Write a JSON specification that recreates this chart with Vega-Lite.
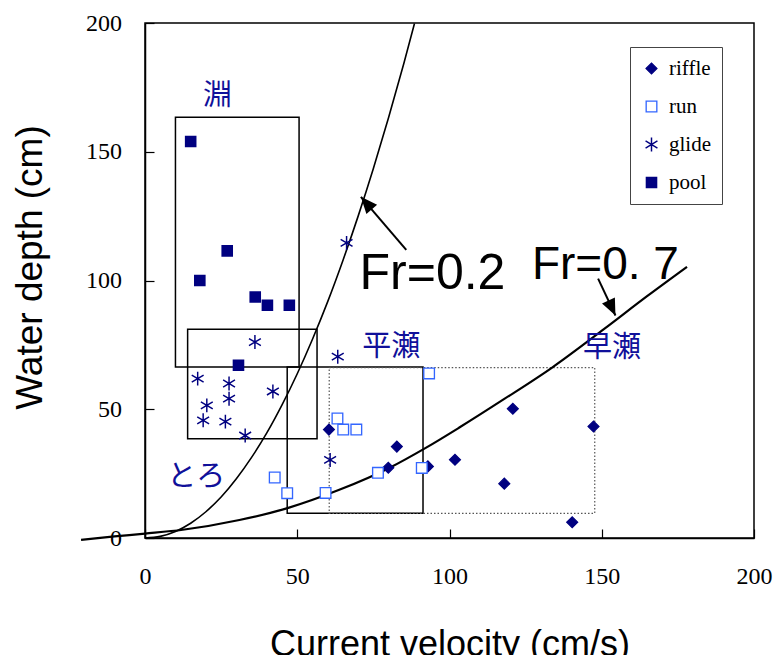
{
  "$schema": "https://vega.github.io/schema/vega-lite/v6.json",
  "width": 609,
  "height": 515,
  "autosize": {"type": "none"},
  "padding": {"left": 145, "top": 23, "right": 22, "bottom": 117},
  "background": "white",
  "datasets": {
    "points": [
      {"type": "riffle", "v": 60.4, "h": 42.1},
      {"type": "riffle", "v": 82.7, "h": 35.5},
      {"type": "riffle", "v": 79.9, "h": 27.3},
      {"type": "riffle", "v": 92.9, "h": 27.8},
      {"type": "riffle", "v": 101.8, "h": 30.4},
      {"type": "riffle", "v": 118.0, "h": 21.1},
      {"type": "riffle", "v": 120.8, "h": 50.2},
      {"type": "riffle", "v": 140.3, "h": 6.1},
      {"type": "riffle", "v": 147.3, "h": 43.3},
      {"type": "run", "v": 63.2, "h": 46.4},
      {"type": "run", "v": 65.1, "h": 42.1},
      {"type": "run", "v": 69.4, "h": 42.1},
      {"type": "run", "v": 42.6, "h": 23.5},
      {"type": "run", "v": 46.7, "h": 17.4},
      {"type": "run", "v": 59.3, "h": 17.5},
      {"type": "run", "v": 76.5, "h": 25.3},
      {"type": "run", "v": 90.9, "h": 27.2},
      {"type": "run", "v": 93.3, "h": 63.9},
      {"type": "glide", "v": 36.1, "h": 76.1},
      {"type": "glide", "v": 17.3, "h": 61.9},
      {"type": "glide", "v": 27.6, "h": 60.0},
      {"type": "glide", "v": 27.6, "h": 54.1},
      {"type": "glide", "v": 42.0, "h": 56.9},
      {"type": "glide", "v": 20.3, "h": 51.5},
      {"type": "glide", "v": 19.1, "h": 45.7},
      {"type": "glide", "v": 26.4, "h": 45.2},
      {"type": "glide", "v": 32.9, "h": 39.8},
      {"type": "glide", "v": 63.3, "h": 70.4},
      {"type": "glide", "v": 60.8, "h": 30.3},
      {"type": "glide", "v": 66.2, "h": 114.6},
      {"type": "pool", "v": 15.0, "h": 154.0},
      {"type": "pool", "v": 18.0, "h": 100.0},
      {"type": "pool", "v": 27.0, "h": 111.5},
      {"type": "pool", "v": 36.2, "h": 93.6},
      {"type": "pool", "v": 40.2, "h": 90.4},
      {"type": "pool", "v": 47.4, "h": 90.4},
      {"type": "pool", "v": 30.7, "h": 67.1}
    ],
    "boxes": [
      {"box": "pool", "v": 10.0, "v2": 50.6, "h": 66.4, "h2": 163.4},
      {"box": "glide", "v": 14.0, "v2": 56.5, "h": 38.5, "h2": 81.1},
      {"box": "run", "v": 46.7, "v2": 91.3, "h": 9.6, "h2": 66.4}
    ],
    "riffleBox": [
      {"box": "riffle", "v": 60.5, "v2": 147.7, "h": 9.6, "h2": 66.2}
    ],
    "curves": [
      {"fr": "0.2", "v": 0, "h": 0},
      {"fr": "0.2", "v": 5, "h": 0.64},
      {"fr": "0.2", "v": 10, "h": 2.55},
      {"fr": "0.2", "v": 15, "h": 5.74},
      {"fr": "0.2", "v": 20, "h": 10.2},
      {"fr": "0.2", "v": 25, "h": 15.9},
      {"fr": "0.2", "v": 30, "h": 23.0},
      {"fr": "0.2", "v": 35, "h": 31.3},
      {"fr": "0.2", "v": 40, "h": 40.8},
      {"fr": "0.2", "v": 45, "h": 51.7},
      {"fr": "0.2", "v": 50, "h": 63.8},
      {"fr": "0.2", "v": 55, "h": 77.2},
      {"fr": "0.2", "v": 60, "h": 91.8},
      {"fr": "0.2", "v": 65, "h": 107.8},
      {"fr": "0.2", "v": 70, "h": 125.0},
      {"fr": "0.2", "v": 75, "h": 143.5},
      {"fr": "0.2", "v": 80, "h": 163.3},
      {"fr": "0.2", "v": 85, "h": 184.3},
      {"fr": "0.2", "v": 88.5, "h": 199.8},
      {"fr": "0.7", "v": -21, "h": -0.7},
      {"fr": "0.7", "v": -10, "h": 0.6},
      {"fr": "0.7", "v": 0, "h": 1.7},
      {"fr": "0.7", "v": 12.4, "h": 3.2},
      {"fr": "0.7", "v": 31, "h": 7.0},
      {"fr": "0.7", "v": 46.8, "h": 11.6},
      {"fr": "0.7", "v": 63.8, "h": 18.7},
      {"fr": "0.7", "v": 80.2, "h": 27.2},
      {"fr": "0.7", "v": 92.2, "h": 35.0},
      {"fr": "0.7", "v": 103.1, "h": 42.8},
      {"fr": "0.7", "v": 118, "h": 54.0},
      {"fr": "0.7", "v": 133.7, "h": 66.2},
      {"fr": "0.7", "v": 150.7, "h": 81.1},
      {"fr": "0.7", "v": 165, "h": 94.0},
      {"fr": "0.7", "v": 178, "h": 105.3}
    ],
    "jpLabels": [
      {"text": "淵", "v": 23.8, "h": 171.6},
      {"text": "平瀬", "v": 80.9, "h": 74.2},
      {"text": "早瀬", "v": 153.4, "h": 73.6},
      {"text": "とろ", "v": 16.8, "h": 23.6}
    ],
    "frLabels": [
      {"text": "Fr=0.2", "v": 94.4, "h": 96.8}
    ],
    "frLabels2": [
      {"text": "Fr=0. 7", "v": 151.2, "h": 100.7}
    ],
    "arrows": [
      {"name": "a02", "v": 85.8, "h": 111.9, "v2": 70.9, "h2": 132.5},
      {"name": "a07", "v": 148.8, "h": 100.7, "v2": 154.5, "h2": 86.4}
    ]
  },
  "layer": [
    {
      "data": {"name": "boxes"},
      "mark": {"type": "rect", "fillOpacity": 0, "stroke": "black", "strokeWidth": 1.5},
      "encoding": {
        "x": {"field": "v", "type": "quantitative", "scale": {"domain": [0, 200], "nice": false}, "title": "Current velocity (cm/s)", "axis": {"values": [0, 50, 100, 150, 200]}},
        "x2": {"field": "v2"},
        "y": {"field": "h", "type": "quantitative", "scale": {"domain": [0, 200], "nice": false}, "title": "Water depth (cm)", "axis": {"values": [0, 50, 100, 150, 200]}},
        "y2": {"field": "h2"},
        "strokeDash": {"field": "box", "type": "nominal", "scale": {"domain": ["pool", "glide", "run"], "range": [[1, 0], [8, 4, 2, 4], [7, 4]]}, "legend": null}
      }
    },
    {
      "data": {"name": "riffleBox"},
      "mark": {"type": "rect", "fillOpacity": 0, "stroke": "#555555", "strokeWidth": 1.2, "strokeDash": [1.5, 2]},
      "encoding": {
        "x": {"field": "v", "type": "quantitative", "title": "Current velocity (cm/s)"},
        "x2": {"field": "v2"},
        "y": {"field": "h", "type": "quantitative", "title": "Water depth (cm)"},
        "y2": {"field": "h2"}
      }
    },
    {
      "data": {"name": "curves"},
      "transform": [{"filter": "datum.fr === '0.2'"}],
      "mark": {"type": "line", "color": "black", "strokeWidth": 1.6, "interpolate": "monotone", "clip": false},
      "encoding": {
        "x": {"field": "v", "type": "quantitative", "title": "Current velocity (cm/s)"},
        "y": {"field": "h", "type": "quantitative", "title": "Water depth (cm)"}
      }
    },
    {
      "data": {"name": "curves"},
      "transform": [{"filter": "datum.fr === '0.7'"}],
      "mark": {"type": "line", "color": "black", "strokeWidth": 2.2, "interpolate": "monotone", "clip": false},
      "encoding": {
        "x": {"field": "v", "type": "quantitative", "title": "Current velocity (cm/s)"},
        "y": {"field": "h", "type": "quantitative", "title": "Water depth (cm)"}
      }
    },
    {
      "data": {"name": "points"},
      "mark": {"type": "point", "opacity": 1},
      "encoding": {
        "x": {"field": "v", "type": "quantitative", "title": "Current velocity (cm/s)"},
        "y": {"field": "h", "type": "quantitative", "title": "Water depth (cm)"},
        "shape": {"field": "type", "type": "nominal", "scale": {"domain": ["riffle", "run", "glide", "pool"], "range": ["diamond", "square", "M0,-1.35L0,1.35M-1.15,-0.68L1.15,0.68M-1.15,0.68L1.15,-0.68", "square"]}, "legend": {"title": null}},
        "size": {"field": "type", "type": "ordinal", "scale": {"domain": ["riffle", "run", "glide", "pool"], "range": [120, 100, 120, 120]}, "legend": {"title": null}},
        "strokeWidth": {"field": "type", "type": "ordinal", "scale": {"domain": ["riffle", "run", "glide", "pool"], "range": [1.2, 1.6, 2.2, 1.2]}, "legend": {"title": null}},
        "fill": {"field": "type", "type": "nominal", "scale": {"domain": ["riffle", "run", "glide", "pool"], "range": ["#000080", "#ffffff", "#000080", "#000080"]}, "legend": {"title": null}},
        "stroke": {"field": "type", "type": "nominal", "scale": {"domain": ["riffle", "run", "glide", "pool"], "range": ["#000080", "#3366ff", "#000080", "#000080"]}, "legend": {"title": null}}
      }
    },
    {
      "data": {"name": "jpLabels"},
      "mark": {"type": "text", "font": "Noto Sans CJK JP", "fontSize": 29, "color": "#10109a", "align": "center", "baseline": "middle"},
      "encoding": {
        "x": {"field": "v", "type": "quantitative", "title": "Current velocity (cm/s)"},
        "y": {"field": "h", "type": "quantitative", "title": "Water depth (cm)"},
        "text": {"field": "text"}
      }
    },
    {
      "data": {"name": "frLabels"},
      "mark": {"type": "text", "font": "Liberation Sans", "fontSize": 50, "color": "black", "align": "center", "baseline": "alphabetic"},
      "encoding": {
        "x": {"field": "v", "type": "quantitative", "title": "Current velocity (cm/s)"},
        "y": {"field": "h", "type": "quantitative", "title": "Water depth (cm)"},
        "text": {"field": "text"}
      }
    },
    {
      "data": {"name": "frLabels2"},
      "mark": {"type": "text", "font": "Liberation Sans", "fontSize": 46, "color": "black", "align": "center", "baseline": "alphabetic"},
      "encoding": {
        "x": {"field": "v", "type": "quantitative", "title": "Current velocity (cm/s)"},
        "y": {"field": "h", "type": "quantitative", "title": "Water depth (cm)"},
        "text": {"field": "text"}
      }
    },
    {
      "data": {"name": "arrows"},
      "mark": {"type": "rule", "color": "black", "strokeWidth": 2},
      "encoding": {
        "x": {"field": "v", "type": "quantitative", "title": "Current velocity (cm/s)"},
        "y": {"field": "h", "type": "quantitative", "title": "Water depth (cm)"},
        "x2": {"field": "v2"},
        "y2": {"field": "h2"}
      }
    },
    {
      "data": {"name": "arrows"},
      "transform": [{"filter": "datum.name === 'a02'"}],
      "mark": {"type": "point", "shape": "M0,0L-0.6,1.4L0.6,1.4Z", "size": 560, "filled": true, "color": "black", "opacity": 1, "angle": 319},
      "encoding": {
        "x": {"field": "v2", "type": "quantitative", "title": "Current velocity (cm/s)"},
        "y": {"field": "h2", "type": "quantitative", "title": "Water depth (cm)"}
      }
    },
    {
      "data": {"name": "arrows"},
      "transform": [{"filter": "datum.name === 'a07'"}],
      "mark": {"type": "point", "shape": "M0,0L-0.6,1.4L0.6,1.4Z", "size": 560, "filled": true, "color": "black", "opacity": 1, "angle": 155},
      "encoding": {
        "x": {"field": "v2", "type": "quantitative", "title": "Current velocity (cm/s)"},
        "y": {"field": "h2", "type": "quantitative", "title": "Water depth (cm)"}
      }
    }
  ],
  "config": {
    "view": {"stroke": "black", "strokeWidth": 1.5},
    "axis": {
      "grid": false,
      "labelFlush": false,
      "domainColor": "black",
      "domainWidth": 1.5,
      "tickColor": "black",
      "tickWidth": 1.2,
      "tickSize": -9,
      "labelFont": "Liberation Serif",
      "labelFontSize": 24,
      "labelColor": "black",
      "titleFont": "Liberation Sans",
      "titleFontSize": 36,
      "titleFontWeight": "normal",
      "titleColor": "black"
    },
    "axisX": {"labelPadding": 35, "titleY": 117, "titleBaseline": "alphabetic", "titleX": 304.5, "titleAlign": "center"},
    "axisY": {"labelPadding": 32.5, "titleX": -104, "titleY": 244, "titleFontSize": 37, "titleBaseline": "alphabetic", "titleAngle": -90, "titleAlign": "center"},
    "legend": {
      "orient": "none",
      "legendX": 485,
      "legendY": 24,
      "strokeColor": "#444444",
      "fillColor": "white",
      "padding": 11,
      "rowPadding": 16,
      "labelFont": "Liberation Serif",
      "labelFontSize": 21,
      "labelColor": "black",
      "labelOffset": 7
    }
  }
}
